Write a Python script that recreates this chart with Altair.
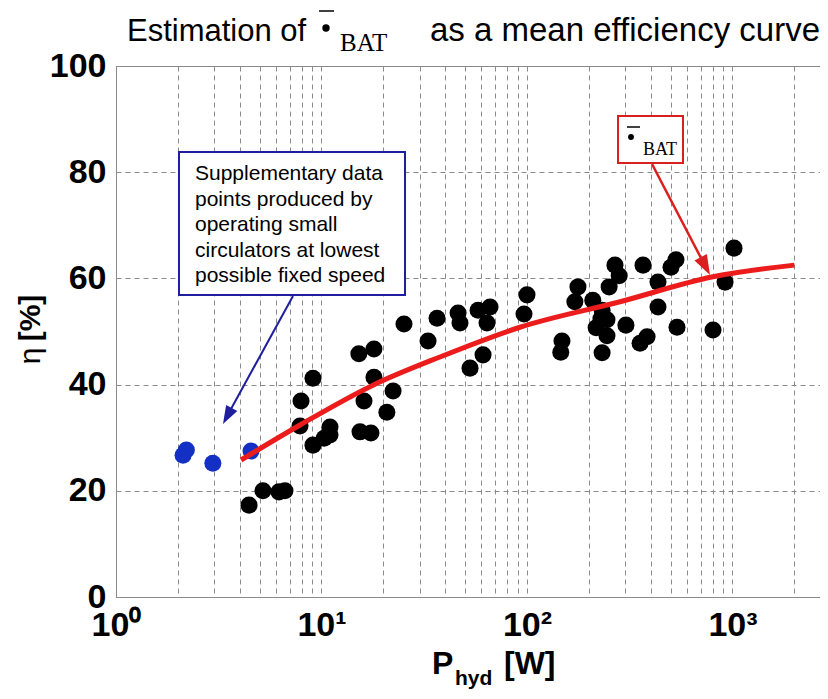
import altair as alt
import pandas as pd

# ---------------- data ----------------
black_x = [4.44, 5.19, 6.21, 6.64, 7.95, 7.86, 9.09, 9.09, 10.3, 11.0, 11.0, 15.2, 18.0, 18.0, 16.1,
           22.3, 20.8, 15.4, 17.4, 25.2, 33.0, 36.5, 46.2, 47.2, 57.8, 66.1, 63.9, 61.1, 52.8, 100,
           96.7, 148, 146, 177, 171, 209, 268, 281, 251, 367, 434, 434, 232, 229, 245, 217, 245, 303,
           232, 355, 384, 531, 502, 537, 804, 920, 1017]
black_y = [17.3, 20.0, 19.8, 20.0, 36.9, 32.2, 41.2, 28.6, 29.9, 32.0, 30.5, 45.8, 46.7, 41.4, 36.9,
           38.8, 34.8, 31.1, 30.9, 51.4, 48.2, 52.5, 53.5, 51.6, 54.0, 54.6, 51.6, 45.6, 43.1, 56.9,
           53.3, 48.2, 46.1, 58.4, 55.6, 55.9, 62.5, 60.5, 58.4, 62.5, 59.3, 54.6, 54.0, 52.4, 52.2,
           50.7, 49.2, 51.2, 46.0, 47.8, 49.0, 63.5, 62.1, 50.8, 50.3, 59.3, 65.7]
blue_x = [2.12, 2.2, 2.96, 4.54]
blue_y = [26.7, 27.7, 25.2, 27.5]
curve_x = [4.06, 7.86, 17.8, 37.7, 92.4, 283.6, 804, 2000]
curve_y = [25.8, 32.4, 39.9, 45.2, 50.8, 55.6, 60.3, 62.5]

x_ticks = [1, 2, 3, 4, 5, 6, 7, 8, 9, 10, 20, 30, 40, 50, 60, 70, 80, 90,
           100, 200, 300, 400, 500, 600, 700, 800, 900, 1000, 2000]
y_ticks = [0, 20, 40, 60, 80, 100]
note_lines = ["Supplementary data", "points produced by", "operating small",
              "circulators at lowest", "possible fixed speed"]

black = pd.DataFrame({"x": black_x, "y": black_y})
blue = pd.DataFrame({"x": blue_x, "y": blue_y})
curve = pd.DataFrame({"x": curve_x, "y": curve_y})
one = pd.DataFrame({"k": [0]})

OX, OY = 116, 66  # plot origin on page
FONT = "Liberation Sans"

xscale = alt.Scale(type="log", domain=[1, 2666], nice=False)
yscale = alt.Scale(domain=[0, 100], nice=False)

xaxis = alt.Axis(values=x_ticks, grid=True, gridDash=[5, 4], gridColor="#8a8a8a", gridWidth=1,
                 ticks=False, domainColor="#8a8a8a", labelFont=FONT, labelFontWeight="bold",
                 labelFontSize=34, labelColor="black", labelPadding=11, labelFlush=False,
                 labelOverlap=False, title=None,
                 labelExpr="datum.value == 1 ? '10⁰' : datum.value == 10 ? '10¹' : "
                           "datum.value == 100 ? '10²' : datum.value == 1000 ? '10³' : ''")
yaxis = alt.Axis(values=y_ticks, grid=True, gridDash=[5, 4], gridColor="#8a8a8a", gridWidth=1,
                 ticks=False, domainColor="#8a8a8a", labelFont=FONT, labelFontWeight="bold",
                 labelFontSize=34, labelColor="black", labelPadding=10, title=None)

X = alt.X("x:Q", scale=xscale, axis=xaxis)
Y = alt.Y("y:Q", scale=yscale, axis=yaxis)

pts_black = alt.Chart(black).mark_circle(size=290, color="black", opacity=1).encode(x=X, y=Y)
pts_blue = alt.Chart(blue).mark_circle(size=290, color="#1430C4", opacity=1).encode(x=X, y=Y)
line_red = alt.Chart(curve).mark_line(color="#EC1C1C", strokeWidth=5, interpolate="monotone").encode(x=X, y=Y)


def txt(s, px, py, size, weight="normal", font=FONT, align="left", baseline="alphabetic",
        angle=None, color="black", **kw):
    opts = dict(text=s, fontSize=size, fontWeight=weight, font=font, align=align,
                baseline=baseline, color=color, **kw)
    if angle is not None:
        opts["angle"] = angle
    return alt.Chart(one).mark_text(**opts).encode(x=alt.value(px - OX), y=alt.value(py - OY))


def rect(x1, y1, x2, y2, stroke):
    return alt.Chart(one).mark_rect(fill="white", stroke=stroke, strokeWidth=2).encode(
        x=alt.value(x1 - OX), x2=alt.value(x2 - OX), y=alt.value(y1 - OY), y2=alt.value(y2 - OY))


def seg(x1, y1, x2, y2, color, w):
    return alt.Chart(one).mark_rule(color=color, strokeWidth=w).encode(
        x=alt.value(x1 - OX), x2=alt.value(x2 - OX), y=alt.value(y1 - OY), y2=alt.value(y2 - OY))


def head(px, py, ang, color, size=400):
    return alt.Chart(one).mark_point(shape="M0,0L0.7,2L-0.7,2Z", filled=True, size=size, angle=ang,
                                     color=color, opacity=1, strokeWidth=0).encode(
        x=alt.value(px - OX), y=alt.value(py - OY))


def dot(px, py, size):
    return alt.Chart(one).mark_circle(size=size, color="black", opacity=1).encode(
        x=alt.value(px - OX), y=alt.value(py - OY))


BLUE_DK = "#1E1E9E"
RED_DK = "#D9201F"

layers = [
    pts_black, pts_blue, line_red,
    # blue annotation
    rect(179, 152, 405, 295, BLUE_DK),
    txt(note_lines, 195, 180, 21, lineHeight=25.5),
    seg(293, 296, 231, 409, BLUE_DK, 2),
    head(223, 424, 208.7, BLUE_DK, 330),
    # red annotation
    rect(618, 116, 683, 163, RED_DK),
    seg(627, 127, 640, 127, "black", 1.5),
    dot(631, 137, 35),
    txt("BAT", 643, 155, 18, font="Liberation Serif"),
    seg(652, 164, 701, 258, RED_DK, 2.5),
    head(710, 275, 152.2, RED_DK, 400),
    # title
    txt("Estimation of", 127, 41, 31),
    seg(319, 11, 334, 11, "black", 1.5),
    dot(326, 28, 55),
    txt("BAT", 340, 51, 25, font="Liberation Serif"),
    txt("as a mean efficiency curve", 820, 41, 33, align="right"),
    # y title
    txt("η", 31, 356, 30, align="center", baseline="middle", angle=270),
    txt("[%]", 31, 318, 30, weight="bold", align="center", baseline="middle", angle=270),
    # x title
    txt("P", 432, 674, 32, weight="bold"),
    txt("hyd", 455, 685, 21, weight="bold"),
    txt("[W]", 504, 674, 32, weight="bold"),
]

chart = alt.layer(*layers).properties(
    width=704, height=531, autosize="none",
    padding={"left": 108, "top": 58, "right": 0, "bottom": 94},
    background="white",
).configure_view(stroke="#8a8a8a", strokeWidth=1)

chart.save("out.html", embed_options={"renderer": "svg", "actions": False})
